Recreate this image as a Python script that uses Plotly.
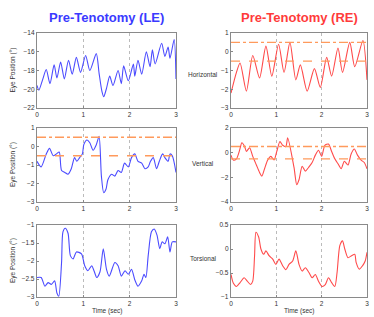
import plotly.graph_objects as go
from plotly.subplots import make_subplots

# ---------------- data ----------------
le_h_t = [0.00, 0.04, 0.12, 0.20, 0.28, 0.37, 0.43, 0.51, 0.59, 0.68, 0.76, 0.85, 0.94, 1.05, 1.14, 1.28,
          1.34, 1.40, 1.44, 1.50, 1.57, 1.64, 1.75, 1.82, 1.87, 1.97, 2.08, 2.11, 2.18, 2.26, 2.36, 2.44,
          2.49, 2.55, 2.69, 2.76, 2.83, 2.87, 2.96, 3.00]
le_h_y = [-19.6, -20.1, -19.0, -17.9, -19.4, -17.4, -18.8, -17.1, -18.9, -16.9, -18.4, -16.6, -18.2, -16.4, -18.0, -16.2,
          -18.3, -20.2, -20.8, -19.9, -18.6, -19.6, -18.0, -19.4, -17.5, -19.1, -17.3, -18.6, -16.9, -18.4, -16.0, -17.6,
          -15.8, -17.3, -15.1, -16.5, -15.5, -16.7, -14.7, -18.9]

re_h_t = [0.00, 0.12, 0.20, 0.34, 0.48, 0.63, 0.77, 0.90, 1.05, 1.17, 1.30, 1.43, 1.53, 1.68, 1.84, 1.97,
          2.11, 2.22, 2.36, 2.46, 2.62, 2.73, 2.91, 3.00]
re_h_y = [-2.2, -1.1, -0.6, -2.1, -0.2, -1.4, 0.3, -1.3, 0.4, -1.1, 0.5, -1.5, -0.7, -2.1, -0.9, -1.9,
          -0.3, -1.3, 0.2, -1.1, 0.5, -0.8, 0.6, -1.5]

le_v_t = [0.00, 0.09, 0.20, 0.27, 0.35, 0.42, 0.48, 0.53, 0.60, 0.67, 0.74, 0.81, 0.86, 0.92, 0.98, 1.01,
          1.08, 1.14, 1.21, 1.28, 1.34, 1.39, 1.44, 1.49, 1.53, 1.61, 1.68, 1.75, 1.82, 1.89, 1.97, 2.04,
          2.11, 2.18, 2.26, 2.33, 2.40, 2.45, 2.51, 2.58, 2.64, 2.71, 2.76, 2.83, 2.87, 2.92, 3.00]
le_v_y = [-0.8, -1.1, -0.4, -0.1, -0.5, -0.4, -0.3, -1.3, -1.4, -1.5, -1.2, -0.6, -0.8, -0.6, -0.4, 0.1,
          0.35, 0.2, -0.2, 0.1, 0.55, -1.6, -2.5, -2.3, -1.8, -1.5, -1.6, -1.3, -1.4, -0.9, -1.1, -0.6,
          -0.4, -0.8, -0.9, -1.2, -1.1, -0.8, -0.6, -1.2, -0.8, -0.4, -0.6, -0.8, -0.4, -0.5, -1.4]

re_v_t = [0.00, 0.05, 0.12, 0.19, 0.24, 0.30, 0.34, 0.41, 0.48, 0.56, 0.63, 0.68, 0.74, 0.81, 0.88, 0.95,
          1.01, 1.08, 1.14, 1.21, 1.25, 1.39, 1.45, 1.50, 1.57, 1.64, 1.71, 1.79, 1.86, 1.93, 2.00, 2.07,
          2.15, 2.22, 2.29, 2.36, 2.43, 2.50, 2.58, 2.65, 2.72, 2.79, 2.87, 2.94, 3.00]
re_v_y = [-0.2, -0.6, -0.5, 0.2, 0.8, 0.5, 0.1, 0.4, -0.3, -1.0, -1.6, -1.9, -1.3, -0.6, -0.3, -0.6,
          0.1, 0.9, 0.6, 0.5, 1.2, -1.2, -2.6, -2.2, -1.1, -1.5, -1.2, -0.8, -0.2, 0.2, -0.3, 0.6,
          0.7, 0.1, -0.5, -0.9, -1.3, -0.7, -1.0, -0.1, 0.3, -0.2, -0.6, -0.8, -1.3]

le_t_t = [0.00, 0.09, 0.17, 0.24, 0.31, 0.38, 0.43, 0.47, 0.53, 0.56, 0.61, 0.67, 0.72, 0.78, 0.85, 0.96,
          1.03, 1.10, 1.18, 1.23, 1.29, 1.36, 1.43, 1.50, 1.56, 1.68, 1.75, 1.82, 1.90, 1.97, 2.04, 2.11,
          2.18, 2.26, 2.31, 2.35, 2.40, 2.47, 2.53, 2.59, 2.65, 2.70, 2.76, 2.82, 2.87, 2.92, 3.00]
le_t_y = [-2.46, -2.46, -2.70, -2.60, -2.65, -2.55, -2.89, -2.98, -2.04, -1.19, -1.09, -1.23, -1.85, -1.94, -1.75, -1.80,
          -2.13, -2.27, -2.13, -2.27, -2.46, -2.30, -1.66, -2.23, -2.42, -2.04, -2.13, -2.42, -2.27, -2.37, -2.23, -2.52,
          -2.70, -2.55, -2.37, -2.46, -1.85, -1.19, -1.11, -1.28, -1.66, -1.47, -1.52, -1.33, -1.75, -1.47, -1.47]

re_t_t = [0.00, 0.05, 0.12, 0.20, 0.29, 0.36, 0.43, 0.48, 0.52, 0.55, 0.61, 0.66, 0.72, 0.77, 0.84, 0.92,
          0.99, 1.06, 1.14, 1.21, 1.28, 1.36, 1.43, 1.50, 1.57, 1.64, 1.72, 1.79, 1.86, 1.93, 2.01, 2.08,
          2.15, 2.22, 2.29, 2.34, 2.40, 2.46, 2.51, 2.58, 2.66, 2.73, 2.76, 2.83, 2.90, 2.96, 3.00]
re_t_y = [-0.53, -0.71, -0.78, -0.70, -0.60, -0.67, -0.74, -0.67, -0.14, 0.35, 0.25, 0.00, -0.11, -0.04, -0.14, -0.21,
          -0.32, -0.21, -0.35, -0.43, -0.32, -0.25, -0.04, -0.32, -0.46, -0.39, -0.49, -0.60, -0.53, -0.67, -0.78, -0.74,
          -0.60, -0.70, -0.78, -0.49, 0.07, 0.17, 0.00, -0.18, -0.14, -0.11, -0.28, -0.42, -0.35, -0.25, -0.07]

ref_t = [0, 3]
ref_upper = 0.5
ref_lower = -0.5

col_titles = ["Pre-Tenotomy (LE)", "Pre-Tenotomy (RE)"]
row_labels = ["Horizontal", "Vertical", "Torsional"]
y_title = "Eye Position (°)"
x_title = "Time (sec)"
y_ranges = [[-22, -14], [-3, 1], [-3, 1], [-4, 2], [-3, -1], [-1, 0.5]]
y_ticks = [[-22, -20, -18, -16, -14], [-3, -2, -1, 0, 1], [-3, -2, -1, 0, 1],
           [-4, -2, 0, 2], [-3, -2.5, -2, -1.5, -1], [-1, -0.5, 0, 0.5]]
x_ticks = [0, 1, 2, 3]

# ---------------- figure ----------------
W, H = 374, 317
BLUE = "#4B4BFF"
RED = "#FF4A4A"
ORANGE = "#FF9A5C"
FONT = "Liberation Sans, Arial, sans-serif"

fig = make_subplots(rows=3, cols=2)

series = [
    (1, 1, le_h_t, le_h_y, BLUE), (1, 2, re_h_t, re_h_y, RED),
    (2, 1, le_v_t, le_v_y, BLUE), (2, 2, re_v_t, re_v_y, RED),
    (3, 1, le_t_t, le_t_y, BLUE), (3, 2, re_t_t, re_t_y, RED),
]
for r, c, t, y, col in series:
    fig.add_trace(go.Scatter(x=t, y=y, mode="lines", line=dict(color=col, width=1.1, shape="spline", smoothing=0.7),
                             showlegend=False, hoverinfo="skip"), row=r, col=c)

for r, c in [(2, 1), (1, 2), (2, 2)]:
    fig.add_trace(go.Scatter(x=ref_t, y=[ref_upper, ref_upper], mode="lines",
                             line=dict(color=ORANGE, width=1.3, dash="dashdot"),
                             showlegend=False, hoverinfo="skip"), row=r, col=c)
    fig.add_trace(go.Scatter(x=ref_t, y=[ref_lower, ref_lower], mode="lines",
                             line=dict(color=ORANGE, width=1.3, dash="dash"),
                             showlegend=False, hoverinfo="skip"), row=r, col=c)

px = lambda v: v / W
py = lambda v: 1 - v / H
xdom = [[px(37), px(176)], [px(231), px(367)]]
ydom = [[py(108), py(33)], [py(202), py(128)], [py(297), py(225)]]

axfont = dict(family=FONT, size=6.5, color="#333")
for i in range(6):
    r, c = i // 2, i % 2
    n = "" if i == 0 else str(i + 1)
    fig.layout["xaxis" + n].update(
        domain=xdom[c], range=[0, 3], tickvals=x_ticks, ticks="inside", ticklen=2,
        tickcolor="#888", showline=True, mirror=True, linecolor="#8a8a8a", linewidth=1.2,
        showgrid=True, gridcolor="#bbbbbb", griddash="dot", gridwidth=1, zeroline=False,
        tickfont=axfont, anchor="y" + n, automargin=False)
    fig.layout["yaxis" + n].update(
        domain=ydom[r], range=y_ranges[i], tickvals=y_ticks[i], ticks="inside", ticklen=2,
        tickcolor="#888", showline=True, mirror=True, linecolor="#8a8a8a", linewidth=1.2,
        showgrid=False, zeroline=False, tickfont=axfont, anchor="x" + n, automargin=False)

ann = []
title_cols = ["#3A3AFF", "#FF3B3B"]
for c in range(2):
    ann.append(dict(text="<b>" + col_titles[c] + "</b>", x=(xdom[c][0] + xdom[c][1]) / 2, y=py(18),
                    xref="paper", yref="paper", showarrow=False,
                    font=dict(family=FONT, size=13, color=title_cols[c]), xanchor="center", yanchor="middle"))
    ann.append(dict(text=x_title, x=(xdom[c][0] + xdom[c][1]) / 2, y=py(311), xref="paper", yref="paper",
                    showarrow=False, font=dict(family=FONT, size=6.5, color="#333"),
                    xanchor="center", yanchor="middle"))
row_y = [74, 163, 258]
for r in range(3):
    ann.append(dict(text=row_labels[r], x=px(203.5), y=py(row_y[r]), xref="paper", yref="paper",
                    showarrow=False, font=dict(family=FONT, size=6.5, color="#333"),
                    xanchor="center", yanchor="middle"))
    ann.append(dict(text=y_title, x=px(13), y=(ydom[r][0] + ydom[r][1]) / 2, xref="paper", yref="paper",
                    showarrow=False, textangle=-90, font=dict(family=FONT, size=6.5, color="#333"),
                    xanchor="center", yanchor="middle"))

fig.update_layout(width=W, height=H, margin=dict(l=0, r=0, t=0, b=0, autoexpand=False),
                  paper_bgcolor="white", plot_bgcolor="white", annotations=ann,
                  font=dict(family=FONT), hovermode=False)

fig.write_html("out.html", config={"displayModeBar": False, "staticPlot": True},
               post_script="document.body.style.margin='0';document.body.style.padding='0';"
                           "document.documentElement.style.overflow='hidden';")
